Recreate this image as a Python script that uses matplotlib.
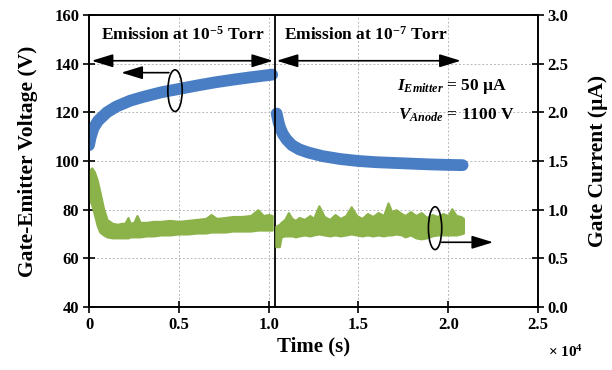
import matplotlib
matplotlib.use("Agg")
import matplotlib.pyplot as plt
from matplotlib.patches import Ellipse

plt.rcParams['font.family'] = ['Liberation Serif', 'DejaVu Serif']
plt.rcParams['font.weight'] = 'bold'
plt.rcParams['axes.labelweight'] = 'bold'
plt.rcParams['mathtext.fontset'] = 'custom'
plt.rcParams['mathtext.rm'] = 'Liberation Serif:bold'
plt.rcParams['mathtext.it'] = 'Liberation Serif:bold:italic'
plt.rcParams['mathtext.bf'] = 'Liberation Serif:bold'

# gate-emitter voltage (V) vs time (s), two runs
v1_t = [0, 100, 250, 500, 1000, 1500, 2300, 3000, 4000, 5000, 6000, 7000, 8000, 9000, 10200]
v1 = [106.5, 110, 113.5, 116.5, 120, 122.3, 124.8, 126.3, 128.2, 129.6, 131, 132.3, 133.4, 134.4, 135.5]
v2_t = [10450, 10550, 10650, 10800, 11000, 11300, 11700, 12200, 13000, 14000, 15000,
        16000, 17000, 18000, 19000, 20000, 20800]
v2 = [119.5, 116, 113.5, 111, 108.8, 106.5, 104.8, 103.5, 102, 100.8, 100,
      99.5, 99.2, 98.9, 98.6, 98.4, 98.3]

# gate current (uA): noisy band, lower and upper edges
g1_t = [0, 150, 300, 450, 600, 800, 1000, 1300, 1600, 1800, 2000, 2170, 2300, 2500,
        2670, 2850, 3200, 3600, 4000, 4500, 5000, 5500, 6000, 6500, 6800, 7100, 7600,
        8000, 8500, 9000, 9400, 9700, 10000, 10200]
g1_lo = [1.12, 1.05, 0.95, 0.84, 0.77, 0.74, 0.72, 0.71, 0.71, 0.71, 0.71, 0.71, 0.72, 0.72,
         0.72, 0.72, 0.73, 0.73, 0.74, 0.74, 0.75, 0.75, 0.76, 0.76, 0.77, 0.77, 0.77,
         0.78, 0.78, 0.78, 0.79, 0.79, 0.79, 0.79]
g1_hi = [1.40, 1.43, 1.39, 1.31, 1.19, 1.02, 0.90, 0.86, 0.85, 0.86, 0.86, 0.92, 0.86, 0.87,
         0.94, 0.87, 0.87, 0.88, 0.88, 0.89, 0.88, 0.89, 0.90, 0.91, 0.95, 0.91, 0.92,
         0.93, 0.93, 0.94, 1.00, 0.94, 0.95, 0.94]
g2_t = [10400, 10600, 10700, 10900, 11100, 11300, 11500, 11700, 12000, 12300, 12500, 12800,
        13100, 13400, 13700, 14000, 14300, 14600, 14900, 15200, 15500, 15800, 16100, 16400,
        16650, 16850, 17100, 17400, 17600, 17900, 18200, 18500, 18800, 19100, 19400, 19700,
        20000, 20200, 20450, 20700, 20850]
g2_lo = [0.62, 0.62, 0.72, 0.73, 0.73, 0.73, 0.72, 0.73, 0.74, 0.73, 0.74, 0.75,
         0.74, 0.73, 0.74, 0.73, 0.74, 0.75, 0.74, 0.73, 0.74, 0.73, 0.74, 0.73,
         0.74, 0.74, 0.75, 0.74, 0.72, 0.74, 0.71, 0.70, 0.71, 0.73, 0.74, 0.74,
         0.74, 0.74, 0.74, 0.75, 0.76]
g2_hi = [0.83, 0.85, 0.87, 0.90, 0.97, 0.91, 0.89, 0.92, 0.90, 0.94, 0.91, 1.04,
         0.93, 0.90, 0.95, 0.91, 0.94, 1.03, 0.94, 0.91, 0.96, 0.93, 0.97, 0.94,
         1.07, 0.98, 1.00, 0.96, 0.94, 0.98, 0.94, 0.97, 0.92, 0.95, 0.93, 0.96,
         0.94, 1.01, 0.94, 0.93, 0.91]

x_ticks = [0, 5000, 10000, 15000, 20000, 25000]
x_labels = ['0', '0.5', '1.0', '1.5', '2.0', '2.5']
v_ticks = [40, 60, 80, 100, 120, 140, 160]
v_labels = ['40', '60', '80', '100', '120', '140', '160']
i_ticks = [0.0, 0.5, 1.0, 1.5, 2.0, 2.5, 3.0]
i_labels = ['0.0', '0.5', '1.0', '1.5', '2.0', '2.5', '3.0']

blue = '#4A7EC4'
green = '#8CB24A'

fig = plt.figure(figsize=(6.12, 3.70), dpi=100)
ax = fig.add_axes([89/612, 1-307/370, 449/612, 292/370])
ax2 = ax.twinx()

ax.plot(v1_t, v1, color=blue, lw=8.5, solid_capstyle='round', solid_joinstyle='round', zorder=3)
ax.plot(v2_t, v2, color=blue, lw=8.5, solid_capstyle='round', solid_joinstyle='round', zorder=3)
ax2.fill_between(g1_t, g1_lo, g1_hi, color=green, lw=1.5, edgecolor=green)
ax2.fill_between(g2_t, g2_lo, g2_hi, color=green, lw=1.5, edgecolor=green)

ax.set_xlim(0, 25000)
ax.set_ylim(40, 160)
ax2.set_ylim(0, 3)

tick_font = dict(family='Liberation Serif', weight='bold', size=12)
ax.set_xticks(x_ticks, x_labels, fontdict=tick_font)
ax.set_yticks(v_ticks, v_labels, fontdict=tick_font)
ax2.set_yticks(i_ticks, i_labels, fontdict=tick_font)

ax.grid(True, color='#b8b8b8', linestyle=(0, (2, 2)), lw=0.7)
ax.set_axisbelow(True)
for a in (ax, ax2):
    for s in a.spines.values():
        s.set_linewidth(1.2)
    a.tick_params(direction='inout', length=8, width=1.2, pad=3)

ax.set_xlabel('Time (s)', fontsize=15, fontweight='bold', labelpad=3)
ax.set_ylabel('Gate-Emitter Voltage (V)', fontsize=15.5, fontweight='bold', labelpad=12)
ax2.set_ylabel('Gate Current (µA)', fontsize=15.5, fontweight='bold', labelpad=14)
fig.text(565/612, 1-352/370, r'× 10$^{4}$', fontsize=11, ha='center', va='center')

# annotations
ax.axvline(10350, color='black', lw=1.3, zorder=4)
ax.text(5220, 151.8, r'Emission at 10$^{-5}$ Torr', fontsize=12.5, fontweight='bold',
        ha='center', va='center')
ax.text(15400, 151.8, r'Emission at 10$^{-7}$ Torr', fontsize=12.5, fontweight='bold',
        ha='center', va='center')
arr = dict(arrowstyle='<|-|>,head_length=1.3,head_width=0.4', color='black', lw=1.2,
           mutation_scale=10, shrinkA=0, shrinkB=0)
ax.annotate('', xy=(150, 141.2), xytext=(10250, 141.2), arrowprops=arr)
ax.annotate('', xy=(10450, 141.2), xytext=(20700, 141.2), arrowprops=arr)
one = dict(arrowstyle='-|>,head_length=1.3,head_width=0.4', color='black', lw=1.2,
           mutation_scale=10, shrinkA=0, shrinkB=0)
ax.annotate('', xy=(1800, 136.3), xytext=(4450, 136.3), arrowprops=one)
ax.add_patch(Ellipse((4790, 128.9), 800, 17.1, fill=False, ec='black', lw=1.2, zorder=5))
ax2.add_patch(Ellipse((19270, 0.81), 742, 0.44, fill=False, ec='black', lw=1.2, zorder=5))
ax2.annotate('', xy=(22500, 0.665), xytext=(19640, 0.665), arrowprops=one)
ax.text(17150, 130.5, r'$I_{Emitter}$ = 50 µA', fontsize=12.5, fontweight='bold',
        ha='left', va='center')
ax.text(17200, 118.9, r'$V_{Anode}$ = 1100 V', fontsize=12.5, fontweight='bold',
        ha='left', va='center')

fig.savefig('out.png', dpi=100)
